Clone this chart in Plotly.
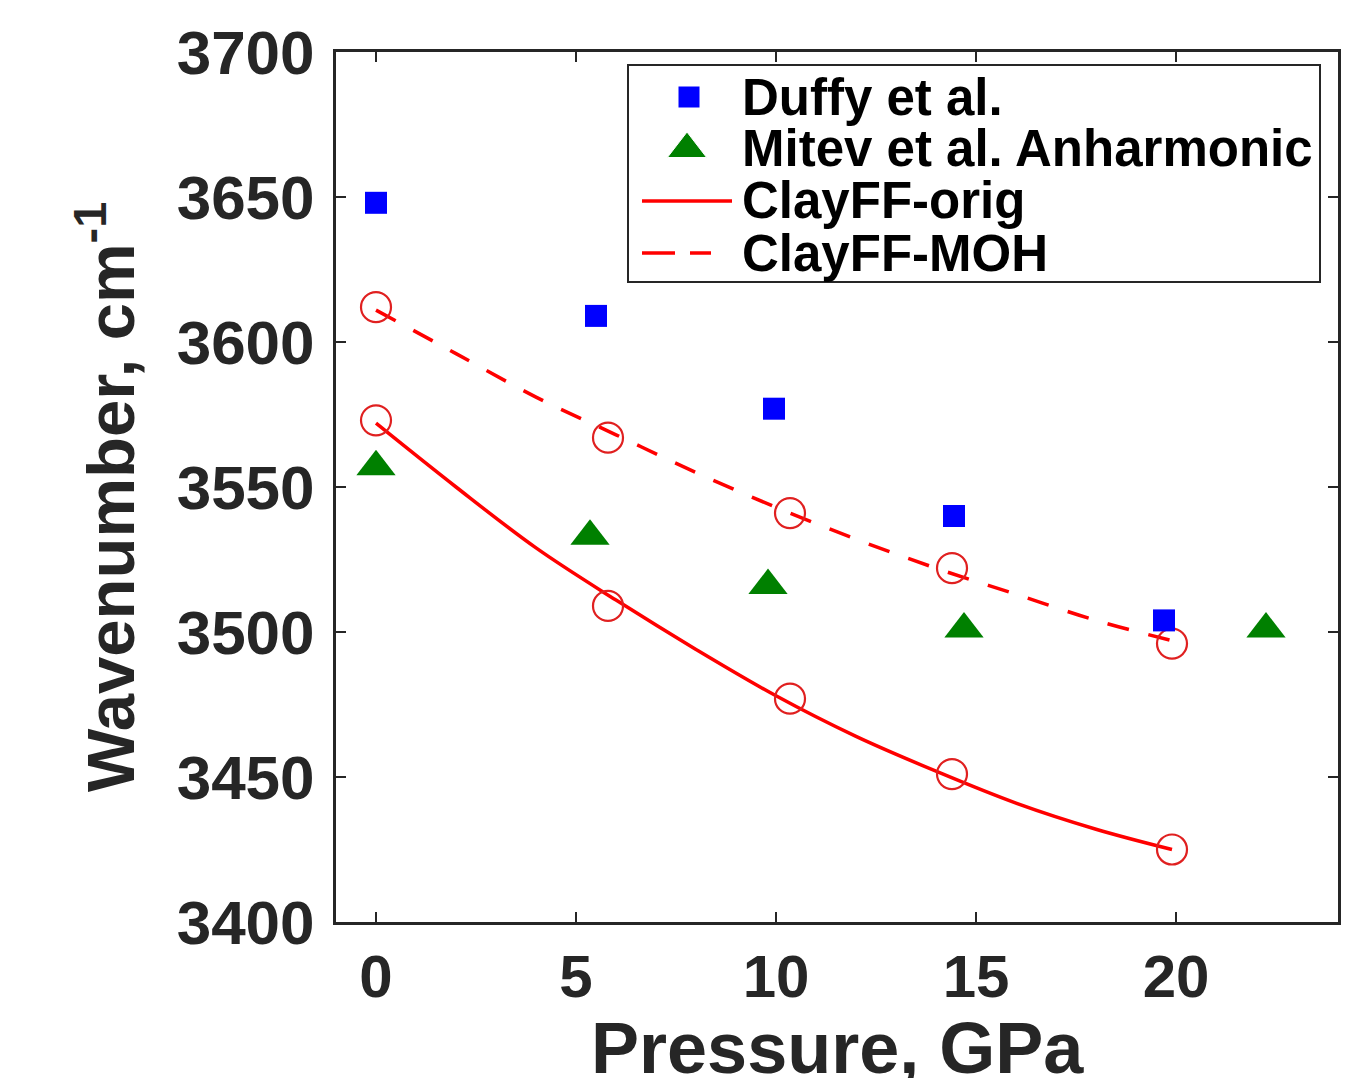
import plotly.graph_objects as go

# Data
duffy_p = [0.0, 5.5, 9.95, 14.45, 19.7]
duffy_w = [3648, 3609, 3577, 3540, 3504]

mitev_p = [0.0, 5.35, 9.8, 14.7, 22.25]
mitev_w = [3557, 3533, 3516, 3501, 3501]

orig_pts_p = [0.0, 5.8, 10.35, 14.4, 19.9]
orig_pts_w = [3573, 3509, 3477, 3451, 3425]

moh_pts_p = [0.0, 5.8, 10.35, 14.4, 19.9]
moh_pts_w = [3612, 3567, 3541, 3522, 3496]

# fitted curves
orig_fit_p = [0, 2, 4, 6, 8, 10, 12, 14, 16, 18, 19.9]
orig_fit_w = [3572, 3550, 3529, 3511, 3494, 3478, 3464, 3452, 3441, 3432, 3425]

moh_fit_p = [0, 2, 4, 6, 8, 10, 12, 14, 16, 18, 19.9]
moh_fit_w = [3611, 3596, 3581, 3568, 3555, 3543, 3532, 3522, 3513, 3504, 3497]

x_ticks = [0, 5, 10, 15, 20]
y_ticks = [3400, 3450, 3500, 3550, 3600, 3650, 3700]

legend_labels = ["Duffy et al.", "Mitev et al. Anharmonic", "ClayFF-orig", "ClayFF-MOH"]
x_title = "Pressure, GPa"
y_title = "Wavenumber, cm<sup>-1</sup>"

AX = "#262626"
FONT = "Liberation Sans, Arial, sans-serif"
RED = "#ff0000"
DASH = "22px,20px"

fig = go.Figure()

fig.add_trace(go.Scatter(x=orig_fit_p, y=orig_fit_w, mode="lines", name="ClayFF-orig",
                         line=dict(color=RED, width=3.5, shape="spline"), showlegend=False))
fig.add_trace(go.Scatter(x=moh_fit_p, y=moh_fit_w, mode="lines", name="ClayFF-MOH",
                         line=dict(color=RED, width=3.5, dash=DASH, shape="spline"),
                         showlegend=False))
fig.add_trace(go.Scatter(x=orig_pts_p, y=orig_pts_w, mode="markers", showlegend=False,
                         marker=dict(symbol="circle-open", size=30, color="#e02020",
                                     line=dict(width=2.2, color="#e02020"))))
fig.add_trace(go.Scatter(x=moh_pts_p, y=moh_pts_w, mode="markers", showlegend=False,
                         marker=dict(symbol="circle-open", size=30, color="#e02020",
                                     line=dict(width=2.2, color="#e02020"))))
fig.add_trace(go.Scatter(x=duffy_p, y=duffy_w, mode="markers", name=legend_labels[0],
                         showlegend=False,
                         marker=dict(symbol="square", size=22, color="#0000ff", opacity=1)))
fig.add_trace(go.Scatter(x=mitev_p, y=mitev_w, mode="markers", name=legend_labels[1],
                         showlegend=False,
                         marker=dict(symbol="triangle-up", size=34, color="#008000", opacity=1)))

# ---- legend drawn in paper space (plot area spans 1002 x 870 px) ----
PW, PH = 1002.0, 870.0
def px(xp):
    return xp / PW
def py(yp):
    return 1 - yp / PH

# box (relative to plot area top-left)
bx0, bx1, by0, by1 = 292, 984, 13, 230
rows = [45, 97, 149, 201]
sym_x = 353
line_x0, line_x1 = 306, 396
text_x = 404

fig.add_shape(type="rect", xref="paper", yref="paper",
              x0=px(bx0), x1=px(bx1), y0=py(by1), y1=py(by0),
              line=dict(color=AX, width=2), fillcolor="rgba(0,0,0,0)", layer="above")
# symbol markers on an overlay axis spanning the plot area
fig.add_trace(go.Scatter(x=[px(sym_x), px(sym_x - 2)], y=[py(rows[0]), py(rows[1])],
                         xaxis="x2", yaxis="y2", mode="markers", showlegend=False,
                         hoverinfo="skip", opacity=1,
                         marker=dict(symbol=["square", "triangle-up"], size=[22, 34],
                                     color=["#0000ff", "#008000"], opacity=1)))
fig.add_shape(type="line", xref="paper", yref="paper",
              x0=px(line_x0), x1=px(line_x1), y0=py(rows[2]), y1=py(rows[2]),
              line=dict(color=RED, width=3.5), layer="above")
fig.add_shape(type="line", xref="paper", yref="paper",
              x0=px(line_x0), x1=px(line_x1 - 21), y0=py(rows[3]), y1=py(rows[3]),
              line=dict(color=RED, width=3.5, dash="33px,15px"), layer="above")
for lab, r in zip(legend_labels, rows):
    fig.add_annotation(x=px(text_x), y=py(r), xref="paper", yref="paper",
                       text=lab, showarrow=False, xanchor="left", yanchor="middle",
                       font=dict(size=51, family=FONT, color="black", weight="bold"))

# x-axis title (partly cut by the bottom edge, as in the reference)
fig.add_annotation(x=0.5, y=-0.0964, xref="paper", yref="paper", text=x_title,
                   showarrow=False, xanchor="center", yanchor="top",
                   font=dict(size=72, family=FONT, color=AX, weight="bold"))
# y-axis title
fig.add_annotation(x=px(-230), y=py(445), xref="paper", yref="paper", text=y_title,
                   showarrow=False, xanchor="center", yanchor="middle", textangle=-90,
                   font=dict(size=67, family=FONT, color=AX, weight="bold"))

fig.update_layout(
    width=1362, height=1070,
    margin=dict(l=328, r=32, t=44, b=156),
    plot_bgcolor="white", paper_bgcolor="white",
    font=dict(family=FONT, color="black", weight="bold"),
    showlegend=False,
    xaxis=dict(range=[-1.0, 24.05], tickvals=x_ticks, ticktext=[str(v) for v in x_ticks],
               ticks="inside", ticklen=10, tickwidth=2, tickcolor=AX,
               showline=True, linewidth=3, linecolor=AX, mirror="ticks",
               showgrid=False, zeroline=False, ticklabelstandoff=0, automargin=False,
               tickfont=dict(size=60, family=FONT, color=AX, weight="bold")),
    yaxis=dict(range=[3400, 3700], tickvals=y_ticks, ticktext=[str(v) for v in y_ticks],
               ticks="inside", ticklen=10, tickwidth=2, tickcolor=AX,
               showline=True, linewidth=3, linecolor=AX, mirror="ticks",
               showgrid=False, zeroline=False, ticklabelstandoff=6, automargin=False,
               tickfont=dict(size=62, family=FONT, color=AX, weight="bold")),
    xaxis2=dict(overlaying="x", range=[0, 1], visible=False, fixedrange=True),
    yaxis2=dict(overlaying="y", range=[0, 1], visible=False, fixedrange=True),
)

fig.write_html("out.html")
